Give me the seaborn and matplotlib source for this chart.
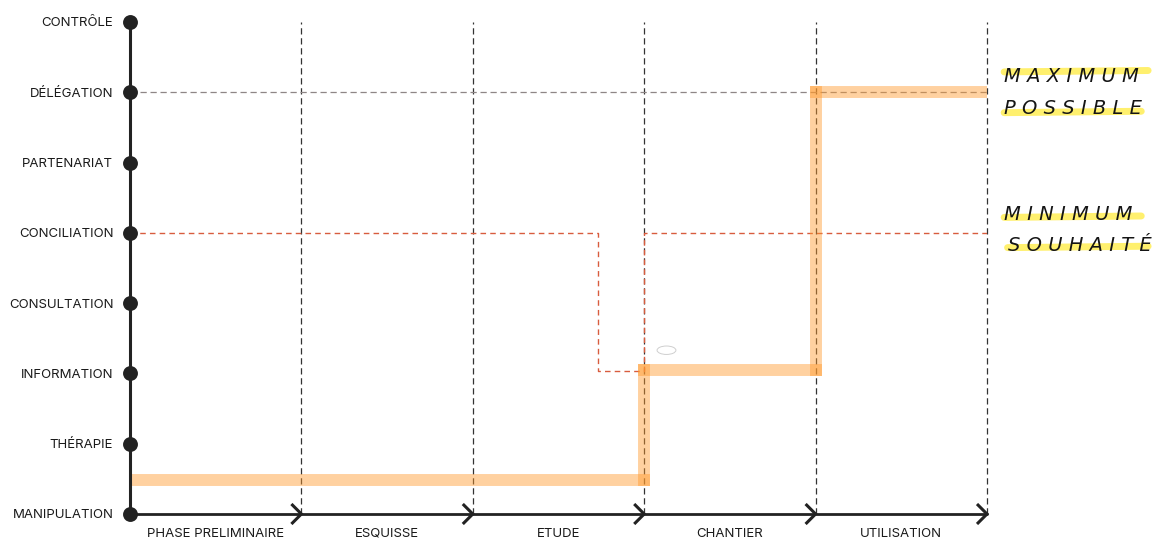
import matplotlib
matplotlib.use("Agg")
import matplotlib.pyplot as plt
from matplotlib.patches import Ellipse
import seaborn as sns
import pandas as pd

# ---- data ----
levels = ["MANIPULATION", "THÉRAPIE", "INFORMATION", "CONSULTATION",
          "CONCILIATION", "PARTENARIAT", "DÉLÉGATION", "CONTRÔLE"]
phases = ["PHASE PRELIMINAIRE", "ESQUISSE", "ETUDE", "CHANTIER", "UTILISATION"]
boundaries = [1, 2, 3, 4, 5]
actual_x = [0, 3, 3, 4, 4, 5]
actual_y = [0.48, 0.48, 2.05, 2.05, 6.0, 6.0]
minimum_x = [0, 2.73, 2.73, 3, 3, 5]
minimum_y = [4, 4, 2.03, 2.03, 4, 4]
maximum_level = 6
notes = [("M A X I M U M", "P O S S I B L E"), ("M I N I M U M", "S O U H A I T É")]

sns.set_theme(style="white")
plt.rcParams["font.family"] = ["Inter", "DejaVu Sans"]

W, H = 1156, 541
fig = plt.figure(figsize=(W / 100, H / 100), dpi=100)
ax = fig.add_axes([130 / W, 27 / H, 857 / W, 492 / H])
ax.set_xlim(0, len(phases))
ax.set_ylim(0, len(levels) - 1)
for s in ax.spines.values():
    s.set_visible(False)
ax.grid(False)

ink = "#222222"

# vertical phase separators
for b in boundaries:
    ax.axvline(b, color="#333333", lw=0.9, linestyle=(0, (5, 3)), zorder=1, clip_on=False)

# maximum possible line
ax.axhline(maximum_level, color="#8e8686", lw=0.9, linestyle=(0, (5, 3)), zorder=1)

# minimum desired line
sns.lineplot(x=minimum_x, y=minimum_y, sort=False, estimator=None, ax=ax,
             color="#D85C3E", lw=1.0, linestyle=(0, (4, 3)), zorder=2)

# actual participation (orange thick segments)
rows = []
for i in range(len(actual_x) - 1):
    rows.append({"x": actual_x[i], "y": actual_y[i], "seg": i})
    rows.append({"x": actual_x[i + 1], "y": actual_y[i + 1], "seg": i})
seg_df = pd.DataFrame(rows)
sns.lineplot(data=seg_df, x="x", y="y", units="seg", estimator=None, sort=False,
             ax=ax, color="#FF9A2E", alpha=0.45, lw=8.6,
             solid_capstyle="projecting", zorder=3)

# axes
ax.plot([0, 0], [0, len(levels) - 1], color=ink, lw=2.2, clip_on=False, zorder=5)
ax.plot([0, len(phases)], [0, 0], color=ink, lw=2.0, clip_on=False, zorder=5)
dx, dy = 10 / 171.4, 10 / 70.3
for b in boundaries:
    ax.plot([b - dx, b, b - dx], [dy, 0, -dy], color=ink, lw=2.2,
            solid_joinstyle="miter", solid_capstyle="butt", clip_on=False, zorder=5)
sns.scatterplot(x=[0] * len(levels), y=list(range(len(levels))), s=115, color=ink,
                linewidth=0, ax=ax, clip_on=False, zorder=6)

# ticks / labels
ax.set_yticks(range(len(levels)), levels)
ax.set_xticks([i + 0.5 for i in range(len(phases))], phases)
ax.tick_params(axis="y", length=0, pad=12, labelsize=9.5, labelcolor="#1a1a1a")
ax.tick_params(axis="x", length=0, pad=10, labelsize=9.5, labelcolor="#1a1a1a")
ax.set_xlabel("")
ax.set_ylabel("")

# small scribble
ax.add_patch(Ellipse((3.13, 2.33), 0.11, 0.12, fill=False, ec="#cfcfcf", lw=0.7))

# right-hand notes with highlights
hl = "#FFF06E"
ax.plot([5.10, 5.94], [6.29, 6.31], color=hl, lw=5, clip_on=False, zorder=1, solid_capstyle="round")
ax.plot([5.10, 5.90], [5.71, 5.73], color=hl, lw=5, clip_on=False, zorder=1, solid_capstyle="round")
ax.plot([5.10, 5.90], [4.22, 4.24], color=hl, lw=5, clip_on=False, zorder=1, solid_capstyle="round")
ax.plot([5.12, 5.94], [3.79, 3.81], color=hl, lw=5, clip_on=False, zorder=1, solid_capstyle="round")
note_kw = dict(fontsize=14, style="italic", family=["DejaVu Sans"], color="#151515",
               va="center", ha="left", zorder=4)
ax.text(5.10, 6.22, notes[0][0], **note_kw)
ax.text(5.10, 5.77, notes[0][1], **note_kw)
ax.text(5.10, 4.26, notes[1][0], **note_kw)
ax.text(5.12, 3.82, notes[1][1], **note_kw)

fig.savefig("out.png", dpi=100)
